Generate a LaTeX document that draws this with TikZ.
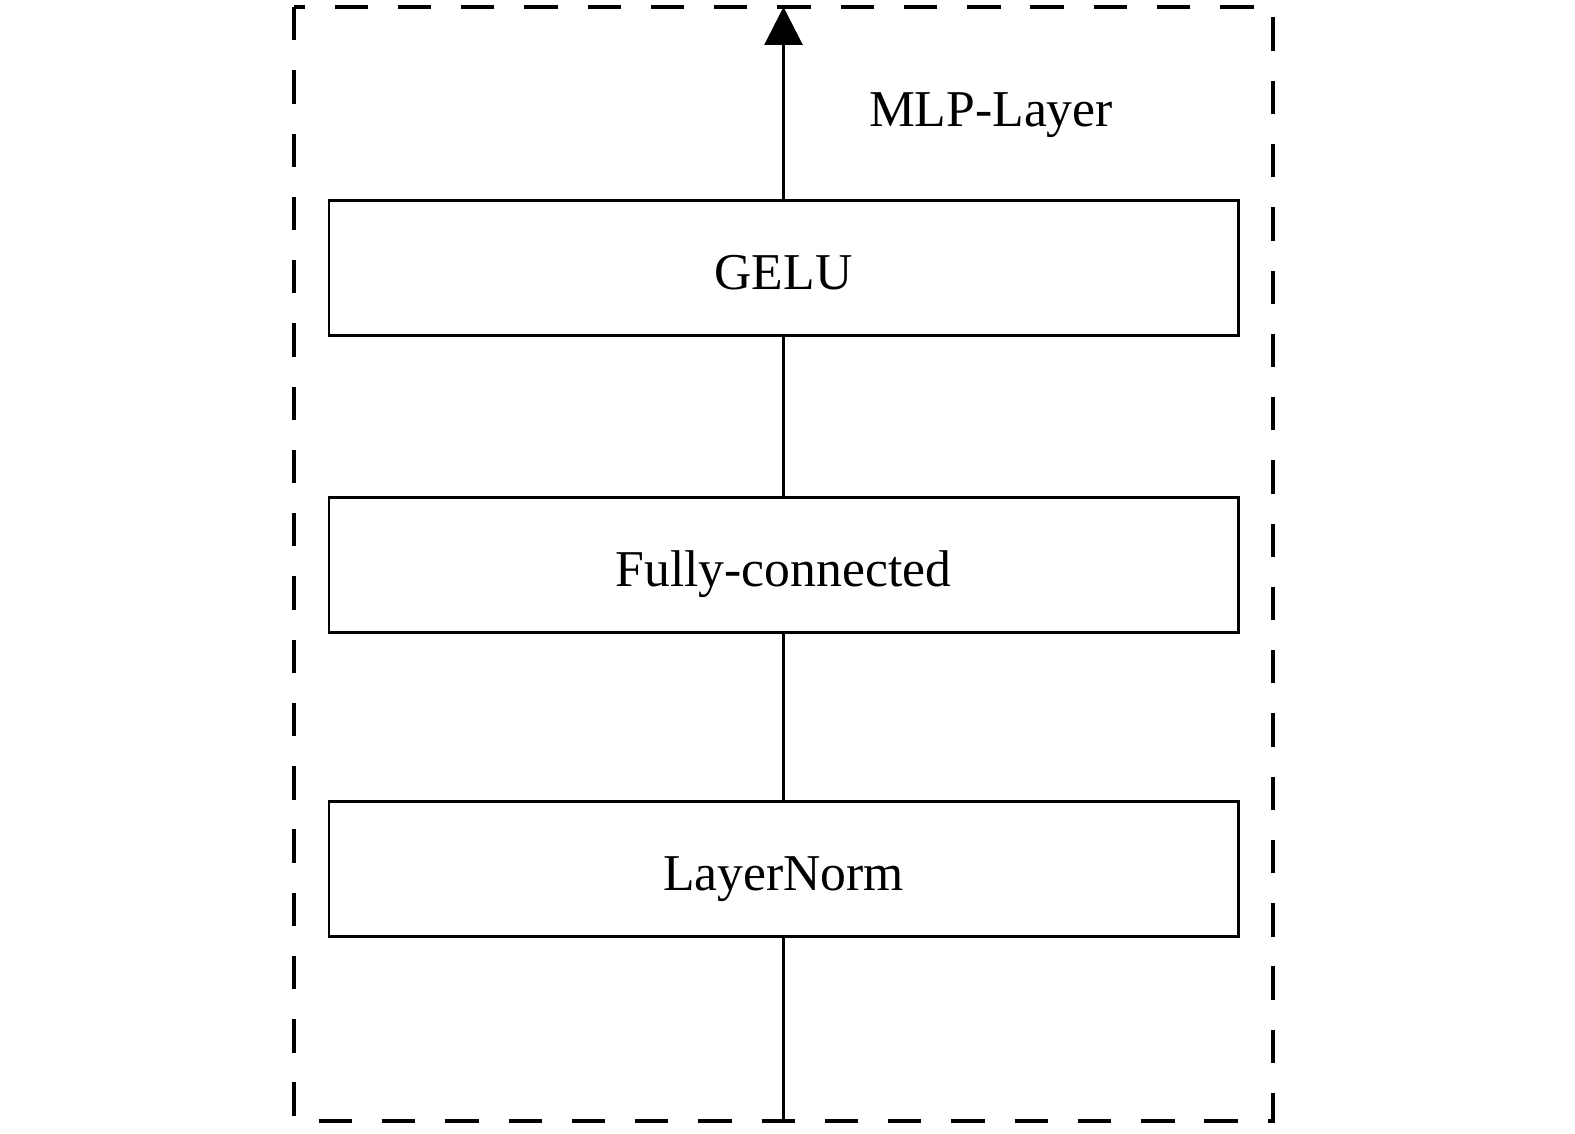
\documentclass[tikz,border=0pt]{standalone}
\usepackage{fontspec}
\setmainfont{Liberation Serif}
\usetikzlibrary{positioning, arrows.meta}
\tikzstyle{layerbox} = [rectangle, minimum width=9.09cm, minimum height=1.35cm, text centered, text height=12pt, text depth=0pt, draw=black, line width=0.85pt, font=\fontsize{14.7}{17}\selectfont]
\tikzstyle{arrow} = [line width=0.85pt,-{Triangle[length=10.8pt,width=10.8pt]}]
\tikzstyle{line} = [line width=0.85pt]
\tikzstyle{frame} = [line width=0.9pt, dash pattern=on 9.5pt off 8.5pt]

\begin{document}
\begin{tikzpicture}
    \useasboundingbox (0,0) rectangle (15.75,-11.34);
    \node (norm) [layerbox] at (7.835,-8.69) {LayerNorm};
    \node (fc) [layerbox, above=1.66cm of norm] {Fully-connected};
    \node (gelu) [layerbox, above=1.59cm of fc] {GELU};
    \node (title) at (9.91,-1.15) {\fontsize{14.7}{17}\selectfont MLP-Layer};
    \coordinate (in) at (7.835,-11.21);
    \coordinate (out) at (7.835,-0.07);

    \draw [frame] (2.94,-0.07) rectangle (12.73,-11.21);
    \draw [line] (in) -- (norm);
    \draw [line] (norm) -- (fc);
    \draw [line] (fc) -- (gelu);
    \draw [arrow] (gelu) -- (out);
  \end{tikzpicture}
\end{document}
